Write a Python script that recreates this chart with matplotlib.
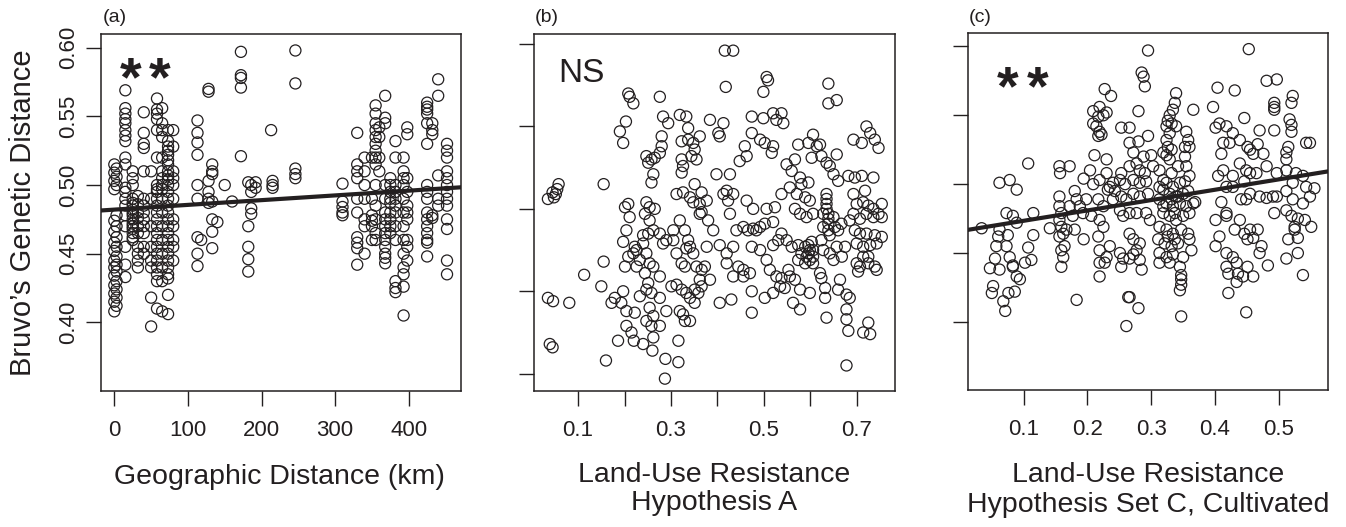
import numpy as np
import matplotlib
matplotlib.use("Agg")
import matplotlib.pyplot as plt

plt.rcParams['font.family'] = ['Liberation Sans', 'DejaVu Sans']
INK = '#231f20'

# ---------------- Panel (a): geographic distance (km) vs Bruvo's distance ----------
geo_col_x = [0, 3, 15, 25, 32, 40, 50, 58, 65, 73, 80, 113, 118, 128, 133, 140, 150,
             160, 172, 182, 186, 192, 213, 215, 246, 310, 330, 340, 350, 355, 360,
             368, 375, 382, 393, 398, 425, 432, 440, 452]
geo_col_y = [
    [0.515, 0.509, 0.503, 0.497, 0.474, 0.466, 0.458, 0.452, 0.445, 0.440, 0.434, 0.427, 0.421, 0.415, 0.408],
    [0.512, 0.506, 0.500, 0.478, 0.470, 0.462, 0.455, 0.448, 0.442, 0.437, 0.430, 0.424, 0.418, 0.412],
    [0.569, 0.556, 0.552, 0.548, 0.545, 0.540, 0.536, 0.532, 0.520, 0.515, 0.498, 0.495, 0.490, 0.485, 0.478, 0.470, 0.455, 0.442, 0.433],
    [0.510, 0.505, 0.500, 0.490, 0.487, 0.485, 0.482, 0.480, 0.478, 0.475, 0.472, 0.470, 0.468, 0.465, 0.462, 0.460],
    [0.492, 0.486, 0.480, 0.476, 0.470, 0.465, 0.455, 0.450, 0.445, 0.440],
    [0.553, 0.538, 0.530, 0.527, 0.510, 0.490, 0.485, 0.480, 0.475, 0.470, 0.465, 0.455, 0.450],
    [0.510, 0.490, 0.470, 0.455, 0.445, 0.440, 0.418, 0.397],
    [0.563, 0.555, 0.552, 0.548, 0.540, 0.520, 0.500, 0.497, 0.495, 0.490, 0.485, 0.480, 0.475, 0.470, 0.465, 0.460, 0.455, 0.450, 0.445, 0.440, 0.435, 0.430, 0.410],
    [0.556, 0.545, 0.540, 0.535, 0.520, 0.510, 0.505, 0.500, 0.497, 0.490, 0.480, 0.470, 0.460, 0.450, 0.440, 0.430, 0.408],
    [0.540, 0.532, 0.528, 0.525, 0.522, 0.518, 0.515, 0.510, 0.507, 0.504, 0.500, 0.495, 0.490, 0.485, 0.480, 0.475, 0.470, 0.465, 0.460, 0.455, 0.450, 0.445, 0.440, 0.435, 0.432, 0.420, 0.406],
    [0.540, 0.528, 0.510, 0.505, 0.500, 0.490, 0.475, 0.470, 0.460, 0.455, 0.445],
    [0.547, 0.538, 0.531, 0.522, 0.500, 0.490, 0.462, 0.450, 0.441],
    [0.460],
    [0.570, 0.568, 0.503, 0.495, 0.490, 0.487],
    [0.515, 0.510, 0.508, 0.488, 0.475, 0.466, 0.454],
    [0.473],
    [0.500],
    [0.488],
    [0.597, 0.580, 0.578, 0.571, 0.521],
    [0.502, 0.470, 0.455, 0.446, 0.437],
    [0.500, 0.495, 0.483, 0.479],
    [0.502, 0.498],
    [0.540],
    [0.503, 0.500, 0.498],
    [0.598, 0.574, 0.512, 0.508, 0.505],
    [0.501, 0.488, 0.484, 0.480, 0.478],
    [0.538, 0.515, 0.510, 0.505, 0.490, 0.480, 0.462, 0.458, 0.454, 0.442],
    [0.520, 0.510, 0.500, 0.490, 0.475, 0.470, 0.450],
    [0.520, 0.490, 0.478, 0.474, 0.470, 0.460],
    [0.558, 0.552, 0.545, 0.540, 0.535, 0.530, 0.525, 0.520, 0.515, 0.500, 0.485, 0.475, 0.465, 0.460],
    [0.542, 0.535, 0.520, 0.510],
    [0.565, 0.549, 0.545, 0.500, 0.490, 0.480, 0.475, 0.470, 0.465, 0.460, 0.455, 0.450, 0.447, 0.443],
    [0.505, 0.500, 0.495, 0.490, 0.487, 0.480, 0.475, 0.470, 0.465],
    [0.532, 0.520, 0.500, 0.495, 0.490, 0.485, 0.480, 0.470, 0.460, 0.430, 0.425, 0.422],
    [0.520, 0.510, 0.505, 0.500, 0.490, 0.480, 0.470, 0.460, 0.450, 0.440, 0.435, 0.426, 0.405],
    [0.542, 0.537, 0.505, 0.495, 0.485, 0.480, 0.475, 0.460, 0.455, 0.445],
    [0.560, 0.557, 0.555, 0.552, 0.545, 0.530, 0.500, 0.495, 0.490, 0.480, 0.475, 0.470, 0.465, 0.460, 0.458, 0.448],
    [0.545, 0.540, 0.537, 0.478, 0.476],
    [0.577, 0.565, 0.507, 0.490, 0.485],
    [0.530, 0.525, 0.520, 0.510, 0.505, 0.500, 0.495, 0.490, 0.485, 0.475, 0.468, 0.445, 0.435],
]
geo_fit = (0.4821, 3.45e-5)   # intercept, slope

# ---------------- Panel (b): Land-use resistance hypothesis A ----------------
land_a_points = [
    (0.035,0.506),(0.045,0.510),(0.048,0.507),(0.052,0.509),(0.055,0.512),(0.058,0.515),
    (0.035,0.446),(0.046,0.444),(0.081,0.443),(0.039,0.418),(0.045,0.416),
    (0.155,0.515),(0.155,0.468),(0.113,0.460),(0.150,0.453),(0.160,0.408),
    (0.172,0.443),(0.179,0.446),(0.193,0.443),(0.197,0.450),
    (0.186,0.420),(0.204,0.429),(0.215,0.425),(0.220,0.420),(0.240,0.418),
    (0.197,0.480),(0.190,0.547),(0.197,0.540),(0.203,0.553),(0.208,0.570),(0.211,0.568),(0.219,0.564),
    (0.201,0.501),(0.208,0.503),(0.211,0.495),(0.204,0.487),(0.201,0.465),(0.208,0.471),(0.219,0.473),(0.226,0.465),(0.222,0.477),
    (0.204,0.438),(0.222,0.437),(0.233,0.447),
    (0.276,0.568),(0.283,0.556),(0.294,0.552),(0.280,0.544),(0.280,0.538),(0.276,0.534),
    (0.247,0.532),(0.258,0.530),(0.265,0.531),(0.251,0.528),(0.262,0.521),(0.258,0.516),
    (0.247,0.504),(0.254,0.501),(0.265,0.500),(0.244,0.497),(0.254,0.493),(0.262,0.487),(0.276,0.485),(0.251,0.485),(0.240,0.484),
    (0.247,0.473),(0.254,0.467),(0.262,0.465),(0.244,0.461),(0.251,0.455),(0.247,0.451),(0.258,0.449),(0.276,0.459),
    (0.226,0.475),(0.233,0.469),(0.240,0.479),
    (0.254,0.440),(0.262,0.435),(0.247,0.432),(0.258,0.429),(0.276,0.429),(0.262,0.422),(0.260,0.414),(0.276,0.446),(0.290,0.438),
    (0.288,0.409),(0.287,0.397),(0.316,0.407),(0.316,0.420),
    (0.319,0.557),(0.333,0.556),(0.337,0.549),(0.323,0.541),(0.337,0.542),(0.348,0.540),(0.362,0.544),(0.351,0.536),(0.344,0.532),(0.355,0.530),
    (0.323,0.530),(0.326,0.526),(0.323,0.522),(0.312,0.509),(0.326,0.510),(0.341,0.507),(0.351,0.515),(0.348,0.504),(0.362,0.503),(0.366,0.498),
    (0.319,0.493),(0.330,0.487),(0.337,0.481),(0.341,0.477),(0.333,0.476),(0.348,0.473),
    (0.312,0.473),(0.323,0.467),(0.330,0.465),(0.355,0.465),(0.366,0.463),(0.373,0.465),
    (0.301,0.453),(0.312,0.454),(0.323,0.451),(0.333,0.449),(0.341,0.446),(0.351,0.451),(0.359,0.449),(0.351,0.443),(0.319,0.438),(0.330,0.432),(0.341,0.432),(0.326,0.436),
    (0.305,0.487),(0.290,0.481),(0.283,0.479),(0.305,0.481),
    (0.384,0.554),(0.402,0.546),(0.413,0.552),(0.405,0.544),(0.416,0.596),(0.434,0.596),(0.418,0.574),(0.398,0.521),(0.427,0.521),(0.448,0.529),(0.459,0.538),(0.463,0.532),
    (0.366,0.510),(0.377,0.505),(0.362,0.497),(0.380,0.493),(0.391,0.487),(0.377,0.477),(0.405,0.478),(0.420,0.473),(0.420,0.467),(0.405,0.443),(0.430,0.445),
    (0.420,0.511),(0.413,0.509),(0.434,0.509),(0.423,0.505),(0.427,0.497),(0.441,0.487),(0.434,0.477),
    (0.384,0.457),(0.362,0.457),(0.366,0.453),
    (0.434,0.459),(0.445,0.465),(0.456,0.463),
    (0.474,0.556),(0.499,0.555),(0.506,0.580),(0.509,0.578),(0.499,0.571),(0.520,0.558),(0.538,0.558),(0.527,0.554),(0.542,0.552),(0.474,0.546),(0.492,0.542),(0.502,0.540),(0.520,0.538),(0.517,0.534),
    (0.463,0.505),(0.477,0.500),(0.506,0.500),(0.524,0.501),(0.538,0.509),(0.456,0.489),(0.466,0.487),(0.477,0.488),(0.484,0.487),(0.492,0.489),(0.502,0.491),(0.520,0.492),
    (0.474,0.477),(0.492,0.475),(0.506,0.469),(0.520,0.478),(0.531,0.481),(0.513,0.463),(0.527,0.459),(0.535,0.453),(0.520,0.449),(0.502,0.446),(0.474,0.437),(0.474,0.450),(0.456,0.459),(0.470,0.461),
    (0.549,0.527),(0.560,0.523),(0.567,0.530),(0.578,0.519),(0.574,0.539),(0.596,0.540),(0.606,0.545),(0.614,0.538),(0.603,0.531),
    (0.556,0.513),(0.571,0.509),(0.589,0.507),(0.599,0.505),(0.581,0.515),(0.596,0.516),(0.567,0.500),(0.578,0.497),(0.592,0.495),(0.606,0.497),
    (0.549,0.481),(0.560,0.477),(0.574,0.478),(0.589,0.477),(0.596,0.473),(0.606,0.471),(0.581,0.473),(0.574,0.469),(0.589,0.467),(0.599,0.469),
    (0.538,0.485),(0.556,0.459),(0.567,0.457),(0.578,0.451),(0.563,0.443),(0.578,0.439),(0.599,0.449),(0.606,0.475),
    (0.553,0.463),(0.538,0.458),(0.545,0.452),
    (0.596,0.478),(0.603,0.480),(0.599,0.475),(0.592,0.471),(0.606,0.467),
    (0.639,0.576),(0.639,0.564),(0.657,0.566),(0.621,0.539),(0.624,0.532),(0.635,0.528),(0.642,0.526),(0.657,0.533),(0.650,0.521),(0.660,0.517),
    (0.635,0.509),(0.635,0.506),(0.635,0.503),(0.635,0.500),(0.639,0.497),(0.639,0.494),(0.639,0.491),(0.639,0.487),(0.642,0.484),(0.628,0.497),(0.628,0.489),
    (0.650,0.495),(0.653,0.489),(0.660,0.487),(0.667,0.491),(0.624,0.481),
    (0.628,0.475),(0.642,0.473),(0.657,0.477),(0.668,0.471),(0.675,0.477),(0.650,0.469),
    (0.621,0.461),(0.624,0.458),(0.632,0.452),(0.632,0.446),(0.635,0.434),(0.660,0.451),(0.664,0.457),(0.678,0.448),(0.685,0.446),(0.678,0.439),(0.678,0.433),(0.682,0.426),(0.678,0.405),
    (0.693,0.542),(0.711,0.540),(0.721,0.550),(0.729,0.546),(0.739,0.542),(0.747,0.537),
    (0.682,0.520),(0.696,0.519),(0.711,0.520),(0.736,0.519),(0.718,0.511),(0.693,0.509),
    (0.700,0.503),(0.714,0.504),(0.725,0.502),(0.736,0.500),(0.747,0.497),(0.754,0.503),(0.754,0.495),(0.693,0.497),(0.707,0.494),(0.721,0.497),(0.685,0.493),(0.736,0.495),
    (0.696,0.487),(0.707,0.485),(0.721,0.485),(0.739,0.484),(0.754,0.483),(0.700,0.479),(0.714,0.477),(0.729,0.478),(0.743,0.479),
    (0.700,0.467),(0.707,0.465),(0.725,0.467),(0.739,0.465),(0.743,0.463),(0.703,0.462),(0.714,0.471),(0.725,0.471),
    (0.714,0.425),(0.725,0.431),(0.729,0.424),
]

# ---------------- Panel (c): Land-use resistance hypothesis set C, cultivated ----------
land_c_points = [
    (0.034,0.468),(0.062,0.501),(0.078,0.503),(0.089,0.496),(0.107,0.515),(0.073,0.479),(0.083,0.477),(0.089,0.472),(0.062,0.467),(0.060,0.462),
    (0.075,0.463),(0.057,0.455),(0.073,0.455),(0.078,0.447),(0.055,0.446),(0.047,0.439),(0.062,0.438),(0.083,0.441),(0.089,0.433),(0.094,0.431),
    (0.052,0.426),(0.050,0.421),(0.068,0.415),(0.071,0.408),(0.076,0.421),(0.086,0.422),(0.115,0.479),(0.115,0.463),(0.107,0.454),(0.112,0.445),
    (0.102,0.443),(0.083,0.440),
    (0.156,0.513),(0.157,0.508),(0.172,0.513),(0.156,0.491),(0.156,0.484),(0.159,0.479),(0.156,0.474),(0.159,0.469),(0.162,0.464),(0.156,0.462),
    (0.159,0.452),(0.162,0.447),(0.159,0.440),(0.141,0.468),(0.167,0.467),(0.164,0.455),
    (0.180,0.495),(0.183,0.489),(0.172,0.484),(0.188,0.484),(0.177,0.477),(0.193,0.479),(0.198,0.489),(0.204,0.510),(0.194,0.504),(0.180,0.467),
    (0.194,0.460),(0.183,0.416),(0.209,0.500),(0.206,0.477),
    (0.227,0.569),(0.237,0.564),(0.219,0.556),(0.209,0.553),(0.217,0.549),(0.225,0.550),(0.230,0.552),(0.209,0.544),(0.214,0.542),(0.219,0.538),
    (0.217,0.535),(0.222,0.536),(0.211,0.521),(0.230,0.518),(0.230,0.508),(0.219,0.503),(0.235,0.498),(0.232,0.496),(0.240,0.501),(0.217,0.489),
    (0.225,0.484),(0.219,0.474),(0.225,0.469),(0.217,0.462),(0.219,0.452),(0.235,0.455),(0.219,0.443),(0.227,0.443),(0.219,0.433),(0.230,0.447),
    (0.240,0.489),(0.243,0.495),
    (0.253,0.541),(0.266,0.541),(0.280,0.553),(0.288,0.578),(0.285,0.581),(0.290,0.571),(0.295,0.597),(0.266,0.530),(0.280,0.531),(0.295,0.535),
    (0.272,0.523),(0.288,0.520),(0.300,0.521),(0.253,0.508),(0.266,0.513),(0.277,0.515),(0.282,0.510),(0.290,0.508),(0.303,0.513),(0.251,0.503),
    (0.259,0.500),(0.272,0.503),(0.282,0.501),(0.292,0.502),(0.253,0.491),(0.261,0.489),(0.272,0.493),(0.282,0.491),(0.295,0.493),(0.251,0.481),
    (0.266,0.479),(0.277,0.479),(0.292,0.479),(0.298,0.474),(0.256,0.477),(0.266,0.464),(0.272,0.460),(0.282,0.457),(0.277,0.452),(0.272,0.449),
    (0.266,0.446),(0.282,0.445),(0.256,0.446),(0.251,0.450),(0.285,0.438),(0.264,0.418),(0.266,0.418),(0.280,0.410),(0.261,0.397),(0.253,0.440),
    (0.339,0.566),(0.337,0.559),(0.334,0.554),(0.329,0.550),(0.326,0.546),(0.324,0.542),(0.332,0.544),(0.339,0.542),(0.329,0.537),(0.324,0.532),
    (0.326,0.527),(0.332,0.525),(0.324,0.521),(0.329,0.518),(0.355,0.538),(0.358,0.532),(0.360,0.527),(0.366,0.554),(0.353,0.520),(0.355,0.513),
    (0.313,0.510),(0.319,0.503),(0.324,0.501),(0.334,0.498),(0.345,0.501),(0.353,0.502),(0.319,0.496),(0.329,0.493),(0.339,0.491),(0.350,0.493),
    (0.358,0.495),(0.313,0.489),(0.324,0.486),(0.334,0.484),(0.345,0.486),(0.355,0.484),(0.319,0.479),(0.329,0.477),(0.339,0.474),(0.350,0.477),
    (0.360,0.479),(0.313,0.469),(0.324,0.467),(0.334,0.464),(0.347,0.467),(0.358,0.464),(0.311,0.460),(0.321,0.457),(0.332,0.455),(0.342,0.457),
    (0.360,0.460),(0.313,0.450),(0.324,0.447),(0.334,0.449),(0.350,0.447),(0.363,0.452),(0.313,0.443),(0.329,0.443),(0.345,0.440),(0.347,0.434),
    (0.347,0.431),(0.347,0.427),(0.345,0.423),(0.347,0.404),(0.366,0.486),(0.369,0.487),(0.319,0.484),(0.332,0.489),(0.337,0.479),(0.342,0.491),
    (0.326,0.462),(0.337,0.460),(0.313,0.498),(0.360,0.506),(0.353,0.527),(0.319,0.523),(0.332,0.508),(0.342,0.513),
    (0.397,0.556),(0.404,0.570),(0.431,0.568),(0.446,0.548),(0.453,0.598),(0.401,0.541),(0.407,0.544),(0.418,0.542),(0.428,0.537),(0.413,0.530),
    (0.423,0.530),(0.439,0.532),(0.451,0.527),(0.455,0.525),(0.467,0.529),(0.410,0.522),(0.460,0.522),(0.476,0.522),(0.405,0.506),(0.413,0.510),
    (0.428,0.506),(0.439,0.515),(0.449,0.510),(0.455,0.508),(0.465,0.508),(0.418,0.498),(0.428,0.498),(0.446,0.502),(0.441,0.489),(0.455,0.493),
    (0.449,0.489),(0.410,0.487),(0.401,0.474),(0.418,0.479),(0.418,0.477),(0.439,0.474),(0.431,0.467),(0.446,0.464),(0.455,0.467),(0.467,0.467),
    (0.451,0.460),(0.460,0.461),(0.407,0.462),(0.401,0.455),(0.418,0.450),(0.428,0.447),(0.434,0.443),(0.451,0.440),(0.473,0.455),(0.470,0.450),
    (0.483,0.441),(0.418,0.440),(0.421,0.435),(0.436,0.435),(0.434,0.429),(0.444,0.433),(0.460,0.433),(0.421,0.421),(0.449,0.407),
    (0.481,0.575),(0.497,0.576),(0.522,0.564),(0.493,0.559),(0.493,0.556),(0.493,0.554),(0.520,0.559),(0.517,0.547),(0.520,0.543),(0.520,0.538),
    (0.470,0.539),(0.493,0.539),(0.515,0.527),(0.512,0.523),(0.512,0.518),(0.543,0.530),(0.549,0.530),(0.481,0.513),(0.497,0.508),(0.512,0.510),
    (0.527,0.508),(0.538,0.506),(0.522,0.501),(0.543,0.498),(0.556,0.497),(0.470,0.491),(0.481,0.490),(0.491,0.491),(0.497,0.491),(0.512,0.495),
    (0.522,0.489),(0.549,0.491),(0.538,0.486),(0.493,0.479),(0.512,0.481),(0.520,0.477),(0.530,0.475),(0.541,0.474),(0.525,0.469),(0.551,0.469),
    (0.515,0.460),(0.530,0.461),(0.512,0.446),(0.530,0.450),(0.538,0.434),(0.525,0.467),
]
land_c_fit = (0.4659, 0.0751)  # intercept, slope

y_ticks = [0.40, 0.45, 0.50, 0.55, 0.60]
a_xticks = [0, 100, 200, 300, 400]
b_xticks = [0.1, 0.2, 0.3, 0.4, 0.5, 0.6, 0.7]
b_xticklabels = ['0.1', '', '0.3', '', '0.5', '', '0.7']
c_xticks = [0.1, 0.2, 0.3, 0.4, 0.5]

panel_tags = ['(a)', '(b)', '(c)']
x_labels = ['Geographic Distance (km)',
            'Land-Use Resistance\nHypothesis A',
            'Land-Use Resistance\nHypothesis Set C, Cultivated']
y_label = "Bruvo\u2019s Genetic Distance"
signif = ['**', 'NS', '**']

# ---------------------------------------------------------------------------
W, H = 1346, 527
fig = plt.figure(figsize=(W / 100, H / 100), dpi=100)

def px_axes(l, t, r, b):
    return fig.add_axes([l / W, 1 - b / H, (r - l) / W, (b - t) / H])

axA = px_axes(101, 34, 461, 391)
axB = px_axes(534, 34, 895, 391)
axC = px_axes(968, 33, 1328, 390)
axes = [axA, axB, axC]

geo_x = np.concatenate([np.full(len(ys), x) for x, ys in zip(geo_col_x, geo_col_y)])
geo_y = np.concatenate([np.array(ys) for ys in geo_col_y])
b_arr = np.array(land_a_points)
c_arr = np.array(land_c_points)

scat_kw = dict(s=64, facecolors='none', edgecolors=INK, linewidths=0.9, zorder=2)
axA.scatter(geo_x, geo_y, **scat_kw)
axB.scatter(b_arr[:, 0], b_arr[:, 1], **scat_kw)
axC.scatter(c_arr[:, 0], c_arr[:, 1], **scat_kw)

axA.axline((0, geo_fit[0]), slope=geo_fit[1], color=INK, lw=3.0, zorder=3)
axC.axline((0, land_c_fit[0]), slope=land_c_fit[1], color=INK, lw=3.0, zorder=3)

axA.set_xlim(-18.1, 471)
axA.set_ylim(0.350, 0.610)
axB.set_xlim(0.005, 0.7825)
axB.set_ylim(0.3895, 0.6061)
axC.set_xlim(0.0126, 0.5773)
axC.set_ylim(0.3506, 0.6097)

axA.set_xticks(a_xticks)
axA.set_xticklabels([str(v) for v in a_xticks])
axB.set_xticks(b_xticks)
axB.set_xticklabels(b_xticklabels)
axC.set_xticks(c_xticks)
axC.set_xticklabels([f'{v:.1f}' for v in c_xticks])

for ax in axes:
    ax.set_yticks(y_ticks)
    for sp in ax.spines.values():
        sp.set_linewidth(1.1)
        sp.set_color(INK)
    ax.tick_params(direction='out', length=11, width=1.0, color=INK,
                   labelsize=16, labelcolor=INK)
    ax.tick_params(axis='x', pad=10)
    ax.tick_params(axis='y', pad=5)

axA.set_yticklabels([f'{v:.2f}' for v in y_ticks], rotation=90, va='center')
axB.set_yticklabels([])
axC.set_yticklabels([])

# panel tags
for tag, xpx in zip(panel_tags, [103, 535, 969]):
    fig.text(xpx / W, 1 - 18 / H, tag, ha='left', va='center', fontsize=14, color=INK)

# y label
fig.text(23 / W, 1 - 212.5 / H, y_label, rotation=90, ha='center', va='center',
         fontsize=21, color=INK)

# x labels
fig.text(279 / W, 1 - 477 / H, x_labels[0], ha='center', va='center', fontsize=20.5, color=INK)
fig.text(714.5 / W, 1 - 489 / H, x_labels[1], ha='center', va='center', fontsize=20.5,
         color=INK, linespacing=1.15)
fig.text(1148 / W, 1 - 490 / H, x_labels[2], ha='center', va='center', fontsize=20.5,
         color=INK, linespacing=1.15)

# significance marks: each asterisk drawn separately, as in the original
star_kw = dict(ha='center', va='center', fontsize=40, fontweight='bold', color=INK)
for xf in (0.081, 0.164):
    axA.text(xf, 0.868, signif[0][0], transform=axA.transAxes, **star_kw)
for xf in (0.111, 0.193):
    axC.text(xf, 0.840, signif[2][0], transform=axC.transAxes, **star_kw)
axB.text(0.066, 0.865, signif[1], transform=axB.transAxes, ha='left', va='baseline',
         fontsize=24, color=INK)

fig.savefig('out.png', dpi=100)
